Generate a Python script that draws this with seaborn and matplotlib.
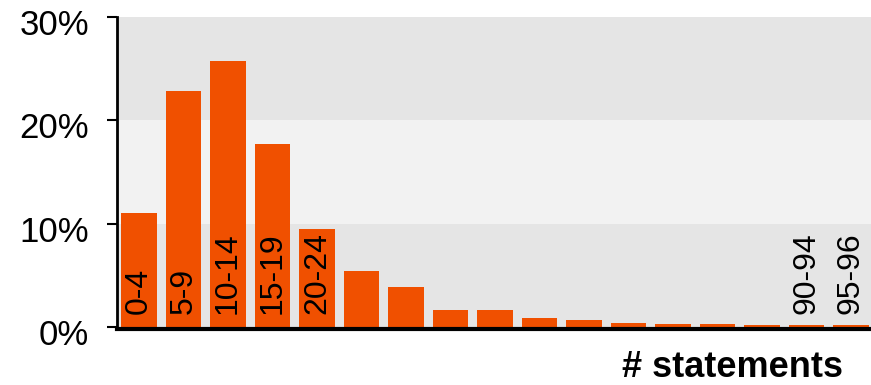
import matplotlib
matplotlib.use("Agg")
import matplotlib.pyplot as plt
import matplotlib.transforms as mtransforms
import seaborn as sns
import pandas as pd

# statement-count buckets and share of programs (%)
buckets = ["0-4", "5-9", "10-14", "15-19", "20-24", "25-29", "30-34", "35-39",
           "40-44", "45-49", "50-54", "55-59", "60-64", "65-69", "70-74",
           "90-94", "95-96"]
share = [11.0, 22.8, 25.7, 17.7, 9.5, 5.4, 3.9, 1.6, 1.6, 0.9, 0.7, 0.4,
         0.3, 0.3, 0.2, 0.2, 0.2]
labelled = ["0-4", "5-9", "10-14", "15-19", "20-24", "90-94", "95-96"]
yticks = [0, 10, 20, 30]

df = pd.DataFrame({"bucket": buckets, "share": share})

sns.set_style("white")
plt.rcParams["font.family"] = ["Liberation Sans", "DejaVu Sans"]

fig = plt.figure(figsize=(8.71, 3.85), dpi=100)
ax = fig.add_axes([0.134, 0.151, 0.866, 0.805])

# alternating background bands
ax.axhspan(0, 10, color="#e5e5e5", zorder=0, lw=0)
ax.axhspan(10, 20, color="#f2f2f2", zorder=0, lw=0)
ax.axhspan(20, 30, color="#e5e5e5", zorder=0, lw=0)

sns.barplot(data=df, x="bucket", y="share", color="#f05000", saturation=1,
            width=0.8, linewidth=0, ax=ax, zorder=2)

for i, b in enumerate(buckets):
    if b in labelled:
        ax.text(i, 1.2, b, rotation=90, ha="center", va="bottom",
                fontsize=23, color="black", zorder=3)

ax.set_xlim(-0.5, 16.45)
ax.set_ylim(0, 30)
ax.set_yticks(yticks)
ax.set_yticklabels([f"{t}%" for t in yticks], fontsize=25)
ax.set_xticks([])
ax.set_xlabel("")
ax.set_ylabel("")
ax.tick_params(axis="y", direction="out", length=7, width=1.5, pad=13,
               left=True, colors="black")
shift = mtransforms.ScaledTranslation(0, -5 / 100, fig.dpi_scale_trans)
for lab in ax.get_yticklabels():
    lab.set_transform(lab.get_transform() + shift)

for s in ["top", "right"]:
    ax.spines[s].set_visible(False)
ax.spines["left"].set_linewidth(2)
ax.spines["left"].set_color("black")
ax.spines["bottom"].set_linewidth(3)
ax.spines["bottom"].set_color("black")
ax.spines["bottom"].set_position(("outward", 1.5))

fig.text(0.968, 0.022, "# statements", ha="right", va="baseline",
         fontsize=26, fontweight="bold", color="black")

fig.savefig("out.png", dpi=100)
